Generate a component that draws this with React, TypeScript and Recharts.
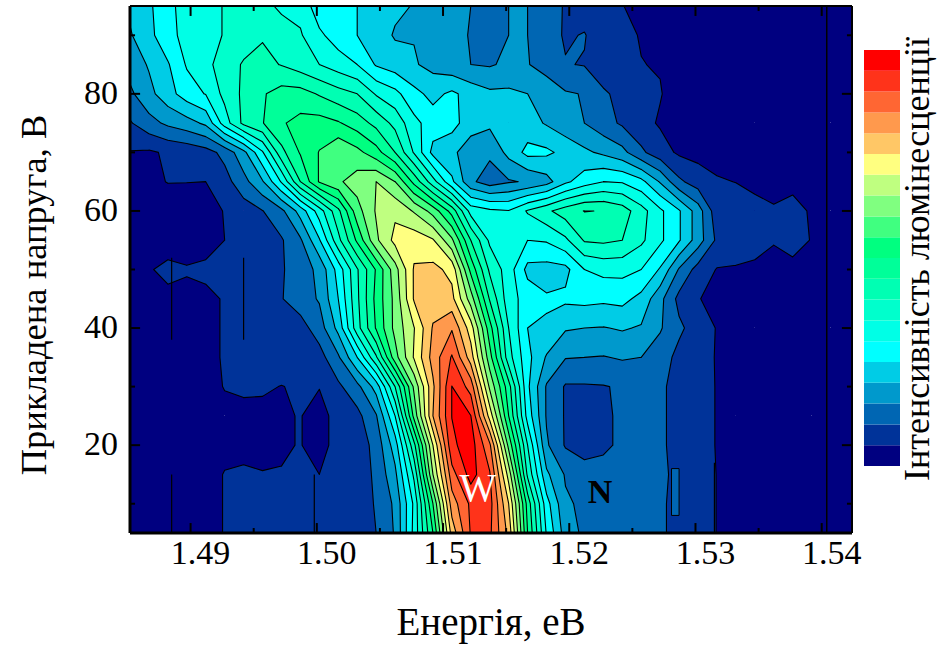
import React from 'react';
import { ComposedChart, BarChart, Bar, Scatter, XAxis, YAxis, ReferenceLine, ReferenceArea } from 'recharts';

const energies = [1.4852,1.4867,1.4882,1.4897,1.4912,1.4927,1.4942,1.4957,1.4972,1.4987,1.5002,1.5017,1.5032,1.5047,1.5062,1.5077,1.5092,1.5107,1.5122,1.5137,1.5152,1.5167,1.5182,1.5197,1.5212,1.5227,1.5242,1.5257,1.5272,1.5287,1.5302,1.5317,1.5332,1.5347,1.5362,1.5377,1.5392,1.5407,1.5424];
const voltages = [5,10,15,20,25,30,35,40,45,50,55,60,65,70,75,80,85,90,95];

const z5 = [.5,.5,.5,.5,.6,1.05,1.3,1.4,1.4,1.4,1.4,1.5,1.6,2.0,3.1,6.3,10,15.4,18.1,18.2,15.7,10,5.9,3.5,2.8,2.6,2.5,2.3,2.1,1.8,1.4,.98,.7,.6,.5,.5,.5,.5,.5];
const z10 = [.5,.5,.5,.5,.6,1.05,1.3,1.4,1.4,1.4,1.4,1.5,1.7,2.05,3.2,6.2,11,16.5,18.2,18.4,15,9.6,5.4,3.15,2.8,2.6,2.5,2.3,2.1,1.8,1.4,.98,.9,.6,.5,.5,.5,.5,.5];
const z15 = [.5,.5,.5,.5,.6,1.05,1.05,1.03,1.02,1.05,1.0,1.15,1.4,2.2,3.75,7.2,13,17.6,19.4,18.1,13.6,7.8,4.2,2.9,2.2,2.2,2.3,2.25,2.2,1.75,1.4,.98,.9,.6,.5,.5,.5,.5,.5];
const z20 = [.5,.5,.5,.5,.6,.7,.9,.8,.95,1.02,.8,1.2,1.4,2.35,4.5,8.7,14,18.8,19.5,17.2,11.7,7,3.15,1.9,1.8,1.9,2.1,2.2,2.1,1.8,1.4,.95,.6,.5,.5,.5,.5,.5,.5];
const z25 = [.5,.5,.5,.5,.6,.7,.9,.8,.95,1.02,.8,1.2,1.7,2.9,6,11.3,16,19.02,19.02,14.6,10,5.6,2.9,1.9,1.8,1.9,2.1,2.2,2.1,1.8,1.4,.95,.6,.5,.5,.5,.5,.5,.5];
const z30 = [.5,.5,.5,.5,.6,1.05,1.06,1.1,.98,1.1,1.02,1.8,2.7,4.4,8,12.2,15.8,19.02,17.6,12.8,9.4,5.2,2.9,1.9,1.9,1.95,2.1,2.2,2.1,1.8,1.4,.95,.6,.5,.5,.5,.5,.5,.5];
const z35 = [.5,.5,.5,.5,.7,1.1,1.2,1.2,1.4,1.5,1.6,2.85,5,7.85,11.6,14.1,16.4,18.1,15.5,11.4,7.4,5.3,3.9,3.05,3.0,2.95,3.1,3.0,2.5,1.7,1.3,.95,.7,.5,.5,.5,.5,.5,.5];
const z40 = [.5,.5,.5,.5,.7,1.1,1.3,1.5,1.8,1.6,2.5,4.3,7.6,10.1,12.3,13.95,16.1,16.9,14.5,10.4,7,5,4.9,4.1,4,3.95,4.1,3.9,3.1,2.2,1.5,.95,.7,.5,.5,.5,.5,.5,.5];
const z45 = [.5,.5,.85,.85,.85,1.05,1.4,1.7,1.95,2.5,3.1,5,7.8,10.3,12.3,15.1,15.5,15.3,12.5,8.9,6.4,5.6,5.1,5.2,5.3,5.2,5.3,4.7,3.3,1.7,1.05,.7,.6,.5,.5,.5,.5,.5,.5];
const z50 = [.6,.95,1.15,1.05,1.15,1.15,1.4,1.7,1.9,2.5,3.25,5.4,7.9,10.1,12.6,15.1,15.3,14.7,10.7,7.8,6.5,4.7,4.6,4.7,6,6.3,6.3,6,4.9,2.9,1.6,.95,.85,.8,.75,.7,.6,.5,.5];
const z55 = [.5,.5,.7,.7,.7,1.0,1.2,1.4,1.9,2.85,4.9,7.7,10.2,12.8,14.3,14.6,14.1,12.2,9,6.8,6.05,6,6.1,6.8,8.1,8.2,8,7.2,6.2,5.1,3.5,1.8,1.9,1.4,1.05,1.4,.95,.7,.95];
const z60 = [.5,.5,.5,.5,.6,1.05,1.5,1.97,2.75,4.4,6.5,8.75,11.6,13.1,13.8,12.9,11.6,9.6,6.6,6.2,6.05,7.1,7.8,8.5,9.03,8.97,8.5,7.4,6.2,5.1,3.5,1.4,1.5,1.2,1.03,1.3,.9,.6,.95];
const z65 = [.7,.8,1.03,1.02,1,1.6,2.65,3.9,6.1,9,11.1,11.85,12.45,13,12,9.7,7.4,5.2,3.2,2.5,2.9,3.1,3.6,4.8,5.5,6,5.9,5.3,3.9,2.2,1.5,1.1,.98,.85,.9,.75,.6,.5,.5];
const z70 = [.95,.85,1.15,1.3,1.6,2.3,3.7,5.9,8.7,10.1,11.05,11.9,11.3,10.4,9,6.9,4.7,4.2,3.5,3.2,4.3,5.3,5.2,4.7,4.2,3.8,3.3,2.2,1.4,.85,.7,.6,.5,.5,.5,.5,.5,.5,.5];
const z75 = [1.9,2.65,3.2,3.6,4.2,6.5,8.25,8.95,9.9,10.3,10.4,10.1,9.5,8.7,7.7,6.3,5.5,5.4,4.4,4.2,4.6,4.4,3.9,3.4,3,2.4,1.85,1.3,.9,.6,.5,.5,.5,.5,.5,.5,.5,.5,.5];
const z80 = [2.8,3.7,4.6,5.5,6.05,7.3,8.2,8.9,9.4,9.4,8.9,8.4,8,6.9,6.3,5.3,4.7,5.2,4.6,4.2,4.2,4,3.6,3.1,2.95,2.1,1.8,1.4,1.05,.6,.5,.5,.5,.5,.5,.5,.5,.5,.5];
const z85 = [3.4,4.1,4.9,6.1,6.7,7.5,8.1,8.3,7.95,7.5,7,6.5,6,4.9,4.5,4.1,3.7,3.3,3,2.9,3.2,3.05,2.6,2.05,1.95,1.6,1.3,1.02,.95,.5,.5,.5,.5,.5,.5,.5,.5,.5,.5];
const z90 = [3.9,4.7,5.7,6.3,6.7,7.05,7.5,7.9,7.5,7.1,6.2,5.5,5,4.5,3.9,3.95,3.5,3.25,2.95,2.8,3,3,2.4,1.9,2.05,1.5,1.2,.95,.7,.5,.5,.5,.5,.5,.5,.5,.5,.5,.5];
const z95 = [4.2,4.8,5.8,6.3,6.7,7.05,7.4,7.3,6.8,6.7,5.4,5.5,5,4.7,4.2,3.95,3.6,3.3,3,2.8,3,3,2.5,1.9,1.6,1.3,1.02,.8,.6,.5,.5,.5,.5,.5,.5,.5,.5,.5,.5];
const grid = [z5,z10,z15,z20,z25,z30,z35,z40,z45,z50,z55,z60,z65,z70,z75,z80,z85,z90,z95];

const bandColors = ['#000080','#003399','#0066B3','#0099CC','#00CCE6','#00FFFF','#00FFE6','#00FFCC','#00FFB3','#00FF99','#00FF80','#40FF80','#80FF80','#BFFF80','#FFFF80','#FFC766','#FF994D','#FF6633','#FF331A','#FF0000'];
const xTicks = [1.49,1.495,1.5,1.505,1.51,1.515,1.52,1.525,1.53,1.535,1.54];
const xMajor = [1.49,1.5,1.51,1.52,1.53,1.54];
const xLabels = ['1.49','1.50','1.51','1.52','1.53','1.54'];
const yTicks = [10,20,30,40,50,60,70,80,90];
const yLabels = [20,40,60,80];
const slivers = [{ x: 1.5404, y1: 5, y2: 95 }, { x: 1.4885, y1: 5, y2: 15 }, { x: 1.4998, y1: 5, y2: 15 }, { x: 1.4885, y1: 38, y2: 52 }, { x: 1.4942, y1: 38, y2: 52 }, { x: 1.5315, y1: 5, y2: 17 }];
const island = { x1: 1.5281, x2: 1.5287, y1: 8, y2: 16 };
const corners = [{ x: 1.4852, y: 5 }, { x: 1.5424, y: 95 }];
const serif = '"Liberation Serif","Times New Roman",serif';

const X0 = energies[0];
const X1 = energies[energies.length - 1];
const Y0 = voltages[0];
const Y1 = voltages[voltages.length - 1];

type V = { x: number; y: number };
type Level = { data: V[]; polys: number[][]; segs: number[][] };

function buildLevel(L: number): Level {
  const data: V[] = [];
  const polys: number[][] = [];
  const segs: number[][] = [];
  for (let r = 0; r < voltages.length - 1; r++) {
    for (let c = 0; c < energies.length - 1; c++) {
      const q = [
        { x: energies[c], y: voltages[r], z: grid[r][c] },
        { x: energies[c + 1], y: voltages[r], z: grid[r][c + 1] },
        { x: energies[c + 1], y: voltages[r + 1], z: grid[r + 1][c + 1] },
        { x: energies[c], y: voltages[r + 1], z: grid[r + 1][c] },
      ];
      if (q.every((p) => p.z < L)) continue;
      const poly: number[] = [];
      let exit = -1;
      let firstEnter = -1;
      for (let i = 0; i < 4; i++) {
        const a = q[i];
        const b = q[(i + 1) % 4];
        const ain = a.z >= L;
        const bin = b.z >= L;
        if (ain) { data.push({ x: a.x, y: a.y }); poly.push(data.length - 1); }
        if (ain !== bin) {
          const t = (L - a.z) / (b.z - a.z);
          data.push({ x: a.x + t * (b.x - a.x), y: a.y + t * (b.y - a.y) });
          const id = data.length - 1;
          poly.push(id);
          if (ain) exit = id;
          else if (exit >= 0) { segs.push([exit, id]); exit = -1; }
          else firstEnter = id;
        }
      }
      if (exit >= 0 && firstEnter >= 0) segs.push([exit, firstEnter]);
      polys.push(poly);
    }
  }
  return { data, polys, segs };
}

const levels = bandColors.map((_, i) => buildLevel(i));

function LevelShape(level: Level, color: string, drawLines: boolean) {
  return (props: any) => {
    const pts = props.points as { x: number; y: number }[];
    const fmt = (i: number) => `${pts[i].x.toFixed(2)} ${pts[i].y.toFixed(2)}`;
    const fill = level.polys.map((p) => 'M' + p.map(fmt).join('L') + 'Z').join('');
    const lines = level.segs.map((s) => `M${fmt(s[0])}L${fmt(s[1])}`).join('');
    return (
      <g>
        <path d={fill} fill={color} stroke="none" />
        {drawLines ? <path d={lines} fill="none" stroke="#000" strokeWidth={1.1} strokeLinecap="round" /> : null}
      </g>
    );
  };
}

const noDot = () => <g />;

const xTickLabel = (p: any) => {
  const v = Number(p.payload.value);
  const label = xLabels.find((s) => Math.abs(Number(s) - v) < 1e-6);
  return label ? (
    <text x={p.x + 10} y={p.y + 31} textAnchor="middle" fontFamily={serif} fontSize={34} fill="#000">{label}</text>
  ) : (
    <g />
  );
};

const yTickLabel = (p: any) => {
  const v = Number(p.payload.value);
  return yLabels.includes(v) ? (
    <text x={p.x - 12} y={p.y + 10} textAnchor="end" fontFamily={serif} fontSize={34} fill="#000">{v}</text>
  ) : (
    <g />
  );
};

const barRow = [Object.fromEntries(bandColors.map((_, i) => [`b${i}`, 1]))];
const chartMargin = { top: 6, right: 90, bottom: 113, left: 130 };

type Seg = { a: V; b: V; w: number };
const tickSegs: Seg[] = [];
for (const v of xTicks) {
  const len = xMajor.some((m) => Math.abs(m - v) < 1e-6) ? 1.7 : 0.85;
  tickSegs.push({ a: { x: v, y: Y0 }, b: { x: v, y: Y0 + len }, w: 2 });
  tickSegs.push({ a: { x: v, y: Y1 }, b: { x: v, y: Y1 - len }, w: 2 });
}
for (const v of yTicks) {
  const len = yLabels.includes(v) ? 0.0008 : 0.0004;
  tickSegs.push({ a: { x: X0, y: v }, b: { x: X0 + len, y: v }, w: 2 });
  tickSegs.push({ a: { x: X1, y: v }, b: { x: X1 - len, y: v }, w: 2 });
}
const frameSegs: Seg[] = [
  { a: { x: X0, y: Y1 }, b: { x: X1, y: Y1 }, w: 2 },
  { a: { x: X1, y: Y0 }, b: { x: X1, y: Y1 }, w: 2 },
  { a: { x: X0, y: Y0 }, b: { x: X1, y: Y0 }, w: 3 },
  { a: { x: X0, y: Y0 }, b: { x: X0, y: Y1 }, w: 3 },
];

export default function App() {
  const domainX: [number, number] = [X0, X1];
  const domainY: [number, number] = [Y0, Y1];
  return (
    <div style={{ position: 'absolute', left: 0, top: 0, width: 942, height: 646, background: '#fff' }}>
      <ComposedChart width={942} height={646} margin={chartMargin}>
        <XAxis hide type="number" dataKey="x" domain={domainX} allowDataOverflow />
        <YAxis hide type="number" dataKey="y" domain={domainY} allowDataOverflow />
        {levels.map((lv, i) => (
          <Scatter key={i} data={lv.data} isAnimationActive={false} shape={noDot} line={LevelShape(lv, bandColors[i], i > 0)} legendType="none" />
        ))}
      </ComposedChart>
      <div style={{ position: 'absolute', left: 0, top: 0 }}>
        <ComposedChart width={942} height={646} margin={{ top: 6, right: 90, bottom: 0, left: 0 }}>
          <XAxis type="number" dataKey="x" domain={domainX} ticks={xTicks} interval={0} height={113} tickLine={false} tickSize={0} tickMargin={0} tick={xTickLabel} axisLine={false} allowDataOverflow />
          <YAxis type="number" dataKey="y" domain={domainY} ticks={yTicks} interval={0} width={130} tickLine={false} tickSize={0} tickMargin={0} tick={yTickLabel} axisLine={false} allowDataOverflow />
          <Scatter data={corners} isAnimationActive={false} shape={noDot} legendType="none" />
          {slivers.map((s, i) => (
            <ReferenceLine key={`s${i}`} segment={[{ x: s.x, y: s.y1 }, { x: s.x, y: s.y2 }]} stroke="#000" strokeWidth={i === 0 ? 1.5 : 1.2} />
          ))}
          <ReferenceArea x1={island.x1} x2={island.x2} y1={island.y1} y2={island.y2} fill={bandColors[2]} fillOpacity={1} stroke="#000" strokeWidth={1} />
          {tickSegs.concat(frameSegs).map((s, i) => (
            <ReferenceLine key={`t${i}`} segment={[s.a, s.b]} stroke="#000" strokeWidth={s.w} ifOverflow="visible" />
          ))}
        </ComposedChart>
      </div>
      <div style={{ position: 'absolute', left: 864, top: 50 }}>
        <BarChart width={36} height={416} data={barRow} margin={{ top: 0, right: 0, bottom: 0, left: 0 }} barCategoryGap={0}>
          <XAxis hide />
          <YAxis hide domain={[0, bandColors.length]} />
          {bandColors.map((c, i) => (
            <Bar key={i} dataKey={`b${i}`} stackId="s" fill={c} isAnimationActive={false} />
          ))}
        </BarChart>
      </div>
      <svg width={942} height={646} style={{ position: 'absolute', left: 0, top: 0, pointerEvents: 'none' }}>
        <text x={491} y={635} textAnchor="middle" fontFamily={serif} fontSize={39} fill="#000">Енергія, еВ</text>
        <text transform="translate(46,295) rotate(-90)" textAnchor="middle" fontFamily={serif} fontSize={36.5} fill="#000">Прикладена напруга, В</text>
        <text transform="translate(929,259) rotate(-90)" textAnchor="middle" fontFamily={serif} fontSize={36} fill="#000">Інтенсивність люмінесценції</text>
        <text x={478} y={501} textAnchor="middle" fontFamily={serif} fontSize={39} fill="#fff">W</text>
        <text x={600} y={503} textAnchor="middle" fontFamily={serif} fontSize={34} fontWeight="bold" fill="#000">N</text>
      </svg>
    </div>
  );
}
